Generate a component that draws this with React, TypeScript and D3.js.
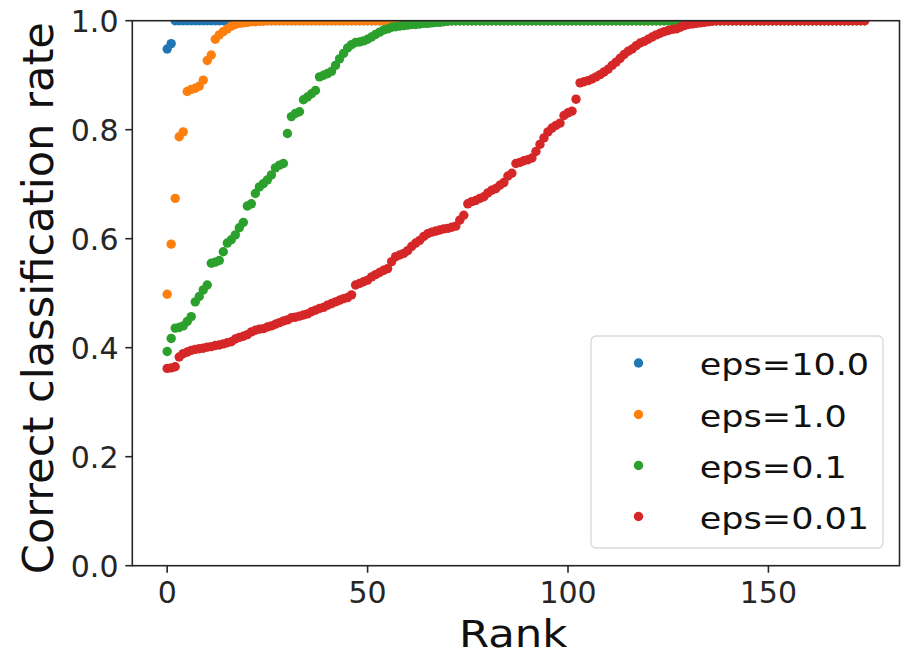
import React from "react";
import * as d3 from "d3";

const seriesLabels = ["eps=10.0", "eps=1.0", "eps=0.1", "eps=0.01"];
const seriesColors = ["#1f77b4", "#ff7f0e", "#2ca02c", "#d62728"];

const eps10 = [0.948, 0.958,
  1, 1, 1, 1, 1, 1, 1, 1, 1, 1, 1, 1, 1, 1, 1, 1, 1, 1, 1, 1, 1, 1, 1, 1, 1, 1, 1, 1, 1, 1, 1, 1, 1, 1, 1, 1, 1, 1,
  1, 1, 1, 1, 1, 1, 1, 1, 1, 1, 1, 1, 1, 1, 1, 1, 1, 1, 1, 1, 1, 1, 1, 1, 1, 1, 1, 1, 1, 1, 1, 1, 1, 1, 1, 1, 1, 1,
  1, 1, 1, 1, 1, 1, 1, 1, 1, 1, 1, 1, 1, 1, 1, 1, 1, 1, 1, 1, 1, 1, 1, 1, 1, 1, 1, 1, 1, 1, 1, 1, 1, 1, 1, 1, 1, 1,
  1, 1, 1, 1, 1, 1, 1, 1, 1, 1, 1, 1, 1, 1, 1, 1, 1, 1, 1, 1, 1, 1, 1, 1, 1, 1, 1, 1, 1, 1, 1, 1, 1, 1, 1, 1, 1, 1,
  1, 1, 1, 1, 1, 1, 1, 1, 1, 1, 1, 1, 1, 1, 1, 1, 1];

const eps1 = [0.498, 0.590, 0.674, 0.787, 0.796, 0.870, 0.874, 0.876, 0.880, 0.891,
  0.927, 0.937, 0.966, 0.974, 0.980, 0.985, 0.990, 0.993, 0.995, 0.996,
  0.997, 0.998, 0.998, 0.999, 0.999,
  1, 1, 1, 1, 1, 1, 1, 1, 1, 1, 1, 1, 1, 1, 1, 1, 1, 1, 1, 1, 1, 1, 1, 1, 1, 1, 1, 1, 1, 1,
  1, 1, 1, 1, 1, 1, 1, 1, 1, 1, 1, 1, 1, 1, 1, 1, 1, 1, 1, 1, 1, 1, 1, 1, 1, 1, 1, 1, 1, 1,
  1, 1, 1, 1, 1, 1, 1, 1, 1, 1, 1, 1, 1, 1, 1, 1, 1, 1, 1, 1, 1, 1, 1, 1, 1, 1, 1, 1, 1, 1,
  1, 1, 1, 1, 1, 1, 1, 1, 1, 1, 1, 1, 1, 1, 1, 1, 1, 1, 1, 1, 1, 1, 1, 1, 1, 1, 1, 1, 1, 1,
  1, 1, 1, 1, 1, 1, 1, 1, 1, 1, 1, 1, 1, 1, 1, 1, 1, 1, 1, 1, 1, 1, 1, 1, 1, 1, 1, 1, 1, 1];

const eps01 = [0.393, 0.417, 0.436, 0.437, 0.440, 0.448, 0.457, 0.484, 0.494, 0.506,
  0.515, 0.555, 0.557, 0.560, 0.576, 0.592, 0.598, 0.607, 0.620, 0.630,
  0.660, 0.664, 0.683, 0.695, 0.701, 0.708, 0.717, 0.730, 0.735, 0.738,
  0.793, 0.824, 0.830, 0.833, 0.855, 0.860, 0.866, 0.872, 0.897, 0.900,
  0.903, 0.907, 0.918, 0.930, 0.940, 0.950, 0.956, 0.960, 0.961, 0.963,
  0.966, 0.970, 0.975, 0.979, 0.983, 0.985, 0.988, 0.989, 0.990, 0.991,
  0.992, 0.993, 0.993, 0.994, 0.995, 0.995, 0.996, 0.997, 0.997, 0.998,
  0.999,
  1, 1, 1, 1, 1, 1, 1, 1, 1, 1, 1, 1, 1, 1, 1, 1, 1, 1, 1, 1, 1, 1, 1, 1, 1, 1,
  1, 1, 1, 1, 1, 1, 1, 1, 1, 1, 1, 1, 1, 1, 1, 1, 1, 1, 1, 1, 1, 1, 1, 1, 1, 1,
  1, 1, 1, 1, 1, 1, 1, 1, 1, 1, 1, 1, 1, 1, 1, 1, 1, 1, 1, 1, 1, 1, 1, 1, 1, 1,
  1, 1, 1, 1, 1, 1, 1, 1, 1, 1, 1, 1, 1, 1, 1, 1, 1, 1, 1, 1, 1, 1, 1, 1, 1, 1];

const eps001 = [0.362, 0.363, 0.365, 0.383, 0.389, 0.392, 0.395, 0.397, 0.398, 0.399,
  0.401, 0.402, 0.404, 0.405, 0.407, 0.409, 0.411, 0.416, 0.419, 0.421,
  0.424, 0.429, 0.432, 0.434, 0.435, 0.438, 0.440, 0.443, 0.446, 0.449,
  0.451, 0.455, 0.456, 0.458, 0.460, 0.462, 0.466, 0.469, 0.472, 0.474,
  0.478, 0.481, 0.484, 0.487, 0.490, 0.492, 0.497, 0.515, 0.518, 0.521,
  0.524, 0.530, 0.534, 0.538, 0.542, 0.545, 0.558, 0.567, 0.570, 0.573,
  0.578, 0.586, 0.592, 0.597, 0.604, 0.609, 0.612, 0.614, 0.616, 0.618,
  0.619, 0.621, 0.623, 0.634, 0.643, 0.664, 0.668, 0.670, 0.674, 0.677,
  0.684, 0.689, 0.692, 0.698, 0.703, 0.715, 0.720, 0.738, 0.740, 0.743,
  0.745, 0.748, 0.760, 0.773, 0.785, 0.796, 0.803, 0.808, 0.812, 0.826,
  0.831, 0.834, 0.856, 0.886, 0.888, 0.890, 0.893, 0.897, 0.901, 0.906,
  0.911, 0.918, 0.924, 0.931, 0.938, 0.944, 0.948, 0.954, 0.959, 0.962,
  0.966, 0.970, 0.974, 0.977, 0.980, 0.982, 0.984, 0.985, 0.988, 0.991,
  0.993, 0.994, 0.995, 0.996, 0.997, 0.998, 0.999,
  1, 1, 1, 1, 1, 1, 1, 1, 1, 1, 1, 1, 1, 1, 1, 1, 1, 1, 1,
  1, 1, 1, 1, 1, 1, 1, 1, 1, 1, 1, 1, 1, 1, 1, 1, 1, 1, 1];

const xTicks = [0, 50, 100, 150];
const yTicks = [0.0, 0.2, 0.4, 0.6, 0.8, 1.0];
const xLabel = "Rank";
const yLabel = "Correct classification rate";

const allSeries = [eps10, eps1, eps01, eps001];

const W = 901;
const H = 653;
const L = 132.3, R = 899.5, T = 20.7, B = 565.7;
const FONT = "'DejaVu Sans', sans-serif";
const AX = "#262626";

export default function App() {
  const x = d3.scaleLinear().domain([-8.7, 182.7]).range([L, R]);
  const y = d3.scaleLinear().domain([0, 1]).range([B, T]);
  const fmt = d3.format(".1f");
  const legendX = 591, legendY = 336, legendW = 292, legendH = 212;
  const rowY = [363, 414.5, 465.5, 516.5];

  return (
    <svg width={W} height={H} style={{ position: "absolute", left: 0, top: 0, background: "#fff" }}
      fontFamily={FONT}>
      <defs>
        <clipPath id="plotclip">
          <rect x={L} y={T} width={R - L} height={B - T} />
        </clipPath>
      </defs>
      <rect x={0} y={0} width={W} height={H} fill="#fff" />
      <g clipPath="url(#plotclip)">
        {allSeries.map((s, si) => (
          <g key={si} fill={seriesColors[si]}>
            {s.map((v, i) => (
              <circle key={i} cx={x(i)} cy={y(v)} r={4.7} />
            ))}
          </g>
        ))}
      </g>
      {/* spines */}
      <rect x={L} y={T} width={R - L} height={B - T} fill="none" stroke={AX} strokeWidth={1.6} />
      {/* x ticks */}
      {xTicks.map((t) => (
        <g key={t}>
          <line x1={x(t)} x2={x(t)} y1={B} y2={B + 7} stroke={AX} strokeWidth={1.6} />
          <text x={x(t)} y={602.5} textAnchor="middle" fontSize={30} fill={AX}>{t}</text>
        </g>
      ))}
      {/* y ticks */}
      {yTicks.map((t) => (
        <g key={t}>
          <line x1={L - 7} x2={L} y1={y(t)} y2={y(t)} stroke={AX} strokeWidth={1.6} />
          <text x={118.5} y={y(t) + 11} textAnchor="end" fontSize={30} fill={AX}>{fmt(t)}</text>
        </g>
      ))}
      <text transform="translate(459,646.7) scale(1.19,1)" fontSize={36.5} fill="#111">{xLabel}</text>
      <text transform={`translate(53,${(T + B) / 2 + 5}) rotate(-90)`} textAnchor="middle" fontSize={43.2} fill="#111">{yLabel}</text>
      {/* legend */}
      <rect x={legendX} y={legendY} width={legendW} height={legendH} rx={5} ry={5}
        fill="#fff" fillOpacity={0.8} stroke="#d9d9d9" strokeWidth={1.3} />
      {seriesLabels.map((lab, i) => (
        <g key={lab}>
          <circle cx={638.5} cy={rowY[i]} r={4.7} fill={seriesColors[i]} />
          <text transform={`translate(699.8,${rowY[i] + 12}) scale(1.145,1)`} fontSize={30.6} fill="#111">{lab}</text>
        </g>
      ))}
    </svg>
  );
}
